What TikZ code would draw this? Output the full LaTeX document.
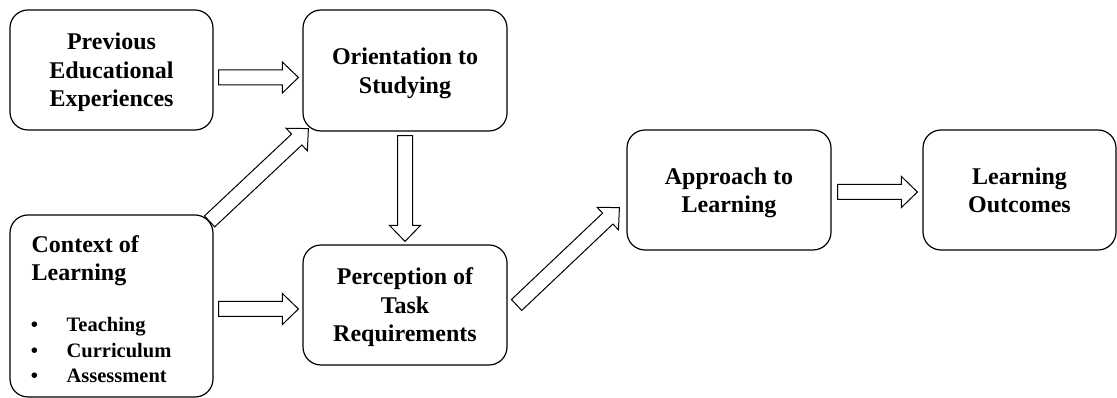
\documentclass[tikz,border=0pt]{standalone}
\usepackage{fontspec}
\setmainfont{Liberation Serif}
\usetikzlibrary{calc}

\tikzset{
  stage/.style={draw, line width=1.2pt, rounded corners=18pt, inner sep=0pt,
    align=center, text depth=0pt, font=\bfseries\fontsize{24}{28.5}\selectfont},
  headtext/.style={anchor=base west, inner sep=0pt, font=\bfseries\fontsize{24}{28}\selectfont},
  itemtext/.style={anchor=base west, inner sep=0pt, font=\bfseries\fontsize{20.5}{25}\selectfont},
  itemdot/.style={anchor=base, inner sep=0pt, font=\bfseries\fontsize{20.5}{25}\selectfont},
  arrowbody/.style={draw, line width=1pt, fill=white, line join=miter},
}

% hollow block arrow from #1 (tail) to #2 (tip)
\newcommand\blockarrow[2]{%
  \coordinate (ba-s) at #1;
  \coordinate (ba-t) at #2;
  \coordinate (ba-h) at ($(ba-t)!16pt!(ba-s)$);
  \draw[arrowbody]
    ($(ba-s)!7.5pt!90:(ba-t)$) -- ($(ba-h)!7.5pt!90:(ba-t)$) --
    ($(ba-h)!15.5pt!90:(ba-t)$) -- (ba-t) --
    ($(ba-h)!15.5pt!-90:(ba-t)$) -- ($(ba-h)!7.5pt!-90:(ba-t)$) --
    ($(ba-s)!7.5pt!-90:(ba-t)$) -- cycle;
}

\begin{document}
\begin{tikzpicture}[x=1pt, y=1pt]
\useasboundingbox (0,0) rectangle (1117,398);

% stages
\node[stage, minimum width=203pt, minimum height=120pt] (pee) at (111.5,328)
  {Previous\\Educational\\Experiences};
\node[stage, minimum width=204pt, minimum height=121pt] (ots) at (405,327.5)
  {Orientation to\\Studying};
\node[stage, minimum width=203pt, minimum height=182pt] (col) at (111.5,92) {};
\node[stage, minimum width=204pt, minimum height=120pt] (ptr) at (405,93)
  {Perception of\\Task\\Requirements};
\node[stage, minimum width=204pt, minimum height=120pt] (atl) at (729,208)
  {Approach to\\Learning};
\node[stage, minimum width=193pt, minimum height=120pt] (lo) at (1019.5,208)
  {Learning\\Outcomes};

% context of learning: heading and bullet list
\node[headtext] (colh1) at ([shift={(22,-38)}]col.north west) {Context of};
\node[headtext] (colh2) at ([shift={(22,-66)}]col.north west) {Learning};
\node[itemdot] (d1) at ([shift={(25,-117)}]col.north west) {•};
\node[itemtext] (i1) at ([shift={(57,-117)}]col.north west) {Teaching};
\node[itemdot] (d2) at ([shift={(25,-143)}]col.north west) {•};
\node[itemtext] (i2) at ([shift={(57,-143)}]col.north west) {Curriculum};
\node[itemdot] (d3) at ([shift={(25,-168)}]col.north west) {•};
\node[itemtext] (i3) at ([shift={(57,-168)}]col.north west) {Assessment};

% influences
\blockarrow{([shift={(5,-7.5)}]pee.east)}{([shift={(-4,-7)}]ots.west)}
\blockarrow{([shift={(5,-3)}]col.east)}{([shift={(-4,-4)}]ptr.west)}
\blockarrow{([shift={(0,-4)}]ots.south)}{([shift={(0,3)}]ptr.north)}
\blockarrow{([shift={(-4,-7)}]col.north east)}{([shift={(6,3)}]ots.south west)}
\blockarrow{([shift={(9,0)}]ptr.east)}{([shift={(-7,43)}]atl.south west)}
\blockarrow{([shift={(6,-2)}]atl.east)}{([shift={(-5,-2)}]lo.west)}
\end{tikzpicture}
\end{document}
